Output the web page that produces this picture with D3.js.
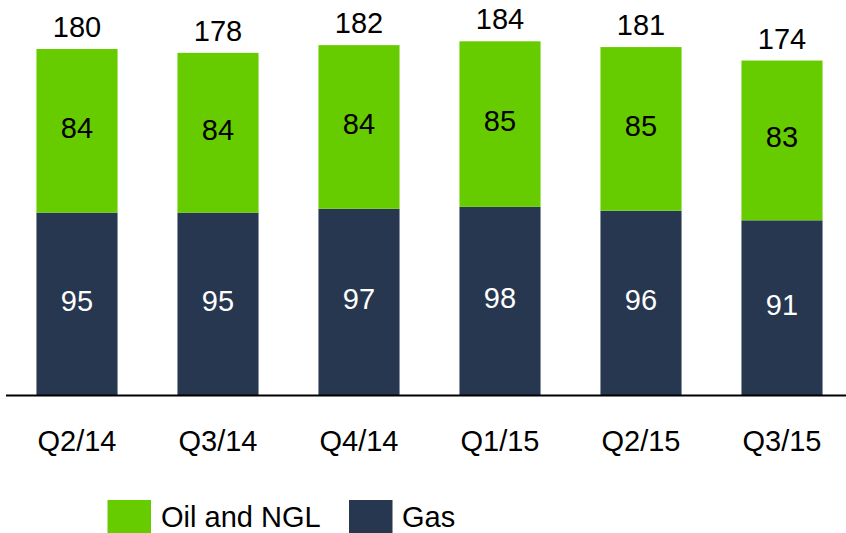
<!DOCTYPE html>
<html>
<head>
<meta charset="utf-8">
<script src="https://cdn.jsdelivr.net/npm/d3@7"></script>
<style>
  html, body { margin: 0; padding: 0; background: #fff; }
  svg { display: block; font-family: "Liberation Sans", Arial, sans-serif; }
</style>
</head>
<body>
<svg id="chart" width="846" height="533"></svg>
<script>
// data
const quarters = ["Q2/14", "Q3/14", "Q4/14", "Q1/15", "Q2/15", "Q3/15"];
const gas = [95, 95, 97, 98, 96, 91];
const oilNgl = [84, 84, 84, 85, 85, 83];
const totals = [180, 178, 182, 184, 181, 174];
const seriesNames = ["Oil and NGL", "Gas"];

/* Set up */
const width = 846;
const baseY = 395.5;
const fontSize = 29;
const green = "#66cc00";
const navy = "#27374f";

const svg = d3.select("#chart");

const x = d3.scaleBand()
  .domain(quarters)
  .range([6.5, 852.5])
  .paddingInner(0.425)
  .paddingOuter(0.2125);

const y = d3.scaleLinear()
  .domain([0, 205.45])
  .range([baseY, 0]);

const rows = quarters.map((q, i) => ({
  q, gas: gas[i], oil: oilNgl[i], total: totals[i],
}));

// gas segments
svg.append("g").selectAll("rect")
  .data(rows)
  .join("rect")
  .attr("x", d => x(d.q))
  .attr("width", x.bandwidth())
  .attr("y", d => y(d.gas))
  .attr("height", d => y(0) - y(d.gas))
  .attr("fill", navy);

// oil and NGL segments, up to the reported total
svg.append("g").selectAll("rect")
  .data(rows)
  .join("rect")
  .attr("x", d => x(d.q))
  .attr("width", x.bandwidth())
  .attr("y", d => y(d.total))
  .attr("height", d => y(d.gas) - y(d.total))
  .attr("fill", green);

// labels inside the bars
const cx = d => x(d.q) + x.bandwidth() / 2;

svg.append("g").selectAll("text")
  .data(rows)
  .join("text")
  .attr("x", cx)
  .attr("y", d => (y(0) + y(d.gas)) / 2 + 7)
  .attr("text-anchor", "middle")
  .attr("font-size", fontSize)
  .attr("fill", "#fff")
  .text(d => d.gas);

svg.append("g").selectAll("text")
  .data(rows)
  .join("text")
  .attr("x", cx)
  .attr("y", d => (y(d.gas) + y(d.total)) / 2 + 7)
  .attr("text-anchor", "middle")
  .attr("font-size", fontSize)
  .attr("fill", "#000")
  .text(d => d.oil);

// totals on top
svg.append("g").selectAll("text")
  .data(rows)
  .join("text")
  .attr("x", cx)
  .attr("y", d => y(d.total) - 12)
  .attr("text-anchor", "middle")
  .attr("font-size", fontSize)
  .attr("fill", "#000")
  .text(d => d.total);

// baseline + category labels
svg.append("line")
  .attr("x1", 6).attr("x2", width)
  .attr("y1", baseY).attr("y2", baseY)
  .attr("stroke", "#000")
  .attr("stroke-width", 2);

const xAxis = d3.axisBottom(x).tickSize(0).tickPadding(0);
svg.append("g")
  .attr("transform", `translate(0,${baseY})`)
  .call(xAxis)
  .call(g => g.select(".domain").remove())
  .call(g => g.selectAll("text")
    .attr("dy", null)
    .attr("y", 55)
    .attr("font-size", fontSize)
    .attr("font-family", "Liberation Sans, Arial, sans-serif")
    .attr("fill", "#000"));

// legend
const legendItems = [
  { name: seriesNames[0], color: green, x: 107.5, tx: 161 },
  { name: seriesNames[1], color: navy, x: 349, tx: 402 },
];
const legend = svg.append("g").selectAll("g")
  .data(legendItems)
  .join("g");
legend.append("rect")
  .attr("x", d => d.x)
  .attr("y", 500)
  .attr("width", 43.5)
  .attr("height", 43.5)
  .attr("fill", d => d.color);
legend.append("text")
  .attr("x", d => d.tx)
  .attr("y", 527)
  .attr("font-size", fontSize)
  .attr("fill", "#000")
  .text(d => d.name);
</script>
</body>
</html>
